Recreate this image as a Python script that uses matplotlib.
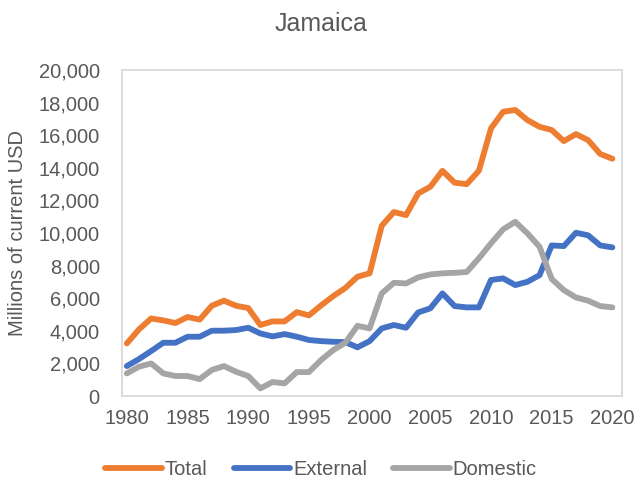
"""Jamaica debt: total, external and domestic, 1980-2020."""

import matplotlib.pyplot as plt
import numpy as np
from matplotlib.ticker import FuncFormatter

plt.rcParams["font.family"] = ["Liberation Sans", "DejaVu Sans"]

TEXT = "#595959"

years = np.arange(1980, 2021)

total = [
    3230, 4090, 4760, 4640, 4480, 4850, 4690, 5540, 5850, 5540,
    5400, 4360, 4580, 4580, 5150, 4950, 5560, 6130, 6630, 7320,
    7530, 10450, 11290, 11100, 12430, 12840, 13820, 13090, 13000, 13820,
    16420, 17440, 17550, 16930, 16520, 16320, 15640, 16070, 15700, 14850,
    14560,
]
external = [
    1840, 2270, 2760, 3270, 3270, 3640, 3640, 4010, 4010, 4050,
    4190, 3840, 3660, 3800, 3640, 3440, 3370, 3330, 3310, 2990,
    3370, 4150, 4360, 4190, 5130, 5380, 6300, 5520, 5440, 5440,
    7120, 7220, 6810, 7010, 7420, 9240, 9200, 10020, 9860, 9240,
    9120,
]
domestic = [
    1390, 1800, 2000, 1390, 1230, 1230, 1040, 1600, 1840, 1490,
    1230, 470, 860, 780, 1470, 1470, 2210, 2820, 3270, 4310,
    4150, 6300, 6950, 6910, 7280, 7460, 7530, 7560, 7610, 8450,
    9370, 10230, 10690, 9980, 9160, 7180, 6500, 6050, 5850, 5520,
    5440,
]

series = [
    ("Total", total, "#ED7D31"),
    ("External", external, "#4472C4"),
    ("Domestic", domestic, "#A5A5A5"),
]

fig = plt.figure(figsize=(6.42, 4.83), dpi=100)
ax = fig.add_axes([0.190, 0.180, 0.779, 0.675])

for name, values, color in series:
    ax.plot(years, values, color=color, lw=4.2, label=name,
            solid_capstyle="round", solid_joinstyle="round")

ax.set_xlim(1979.6, 2020.8)
ax.set_ylim(0, 20000)
ax.set_xticks(np.arange(1980, 2021, 5))
ax.set_yticks(np.arange(0, 20001, 2000))
ax.yaxis.set_major_formatter(FuncFormatter(lambda v, _: f"{v:,.0f}"))
ax.tick_params(length=0, labelsize=14.5, labelcolor=TEXT)
ax.tick_params(axis="y", pad=16)
ax.tick_params(axis="x", pad=9)

for spine in ax.spines.values():
    spine.set_color("#D9D9D9")
    spine.set_linewidth(1.3)

ax.set_ylabel("Millions of current USD", fontsize=14.5, color=TEXT, labelpad=8)
fig.suptitle("Jamaica", fontsize=18, color=TEXT, y=0.975)

fig.legend(loc="lower center", bbox_to_anchor=(0.5, -0.03), ncol=3,
           frameon=False, fontsize=14.5, labelcolor=TEXT,
           handlelength=2.8, handletextpad=0.15, columnspacing=1.3)

fig.savefig("out.png", dpi=100)
